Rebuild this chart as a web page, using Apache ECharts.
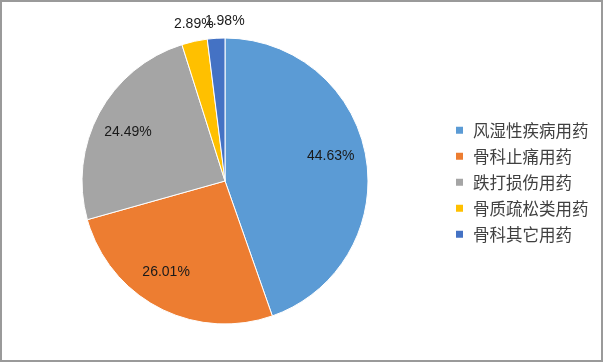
<!DOCTYPE html>
<html>
<head>
<meta charset="utf-8">
<script src="https://cdn.jsdelivr.net/npm/echarts@6/dist/echarts.min.js"></script>
<style>html,body{margin:0;padding:0;background:#fff}#c{width:604px;height:363px}</style>
</head>
<body>
<div id="c"></div>
<script>
const categories = ['风湿性疾病用药', '骨科止痛用药', '跌打损伤用药', '骨质疏松类用药', '骨科其它用药'];
const values = [44.63, 26.01, 24.49, 2.89, 1.98];
const colors = ['#5B9BD5', '#ED7D31', '#A5A5A5', '#FFC000', '#4472C4'];
const outsideLabel = [false, false, false, true, true];

const chart = echarts.init(document.getElementById('c'));
const center = [225, 181];
const R = 143;
// small label nudges (pixels) to mimic the original's label placement
const nudges = [[-3, -6], [-8, -7], [0, 4], [4, 4], [0, 5]];

const baseData = categories.map((n, i) => ({ name: n, value: values[i], itemStyle: { color: colors[i] } }));
const innerLabelData = categories.map((n, i) => ({ name: n, value: values[i], label: { show: !outsideLabel[i] } }));
const outerLabelData = categories.map((n, i) => ({ name: n, value: values[i], label: { show: outsideLabel[i] } }));

const labelStyle = {
  position: 'inside',
  formatter: p => p.value.toFixed(2) + '%',
  fontFamily: 'Liberation Sans', fontSize: 14, color: '#1a1a1a'
};
const layoutFn = function (p) {
  const extra = p.seriesIndex === 2 && p.dataIndex === 4 ? 10 : 0;
  return { hideOverlap: false, dx: nudges[p.dataIndex][0] + extra, dy: nudges[p.dataIndex][1] };
};

chart.setOption({
  animation: false,
  backgroundColor: '#fff',
  color: colors,
  graphic: [{
    type: 'rect', shape: { x: 1, y: 1, width: 601, height: 360 },
    style: { fill: 'none', stroke: '#9a9a9a', lineWidth: 2 }, silent: true, z: 100
  }],
  legend: {
    orient: 'vertical', left: 454, top: 122, padding: 0,
    itemWidth: 9, itemHeight: 9, itemGap: 9.5,
    icon: 'rect',
    data: categories,
    textStyle: { fontFamily: 'Noto Sans CJK SC', fontSize: 16.5, color: '#404040', lineHeight: 16, padding: [0, 0, 0, 4] }
  },
  series: [{
    type: 'pie', center: center, radius: R, startAngle: 90, clockwise: true,
    avoidLabelOverlap: false, silent: true,
    itemStyle: { borderColor: '#fff', borderWidth: 1 },
    label: { show: false }, labelLine: { show: false },
    data: baseData
  }, {
    type: 'pie', center: center, radius: [R * 0.5, R], startAngle: 90, clockwise: true,
    avoidLabelOverlap: false, silent: true, legendHoverLink: false,
    itemStyle: { color: 'rgba(0,0,0,0)' },
    emphasis: { disabled: true },
    labelLayout: layoutFn,
    label: labelStyle,
    labelLine: { show: false },
    data: innerLabelData
  }, {
    type: 'pie', center: center, radius: [R, R + 38], startAngle: 90, clockwise: true,
    avoidLabelOverlap: false, silent: true, legendHoverLink: false,
    itemStyle: { color: 'rgba(0,0,0,0)' },
    emphasis: { disabled: true },
    labelLayout: layoutFn,
    label: labelStyle,
    labelLine: { show: false },
    data: outerLabelData
  }]
});
</script>
</body>
</html>
